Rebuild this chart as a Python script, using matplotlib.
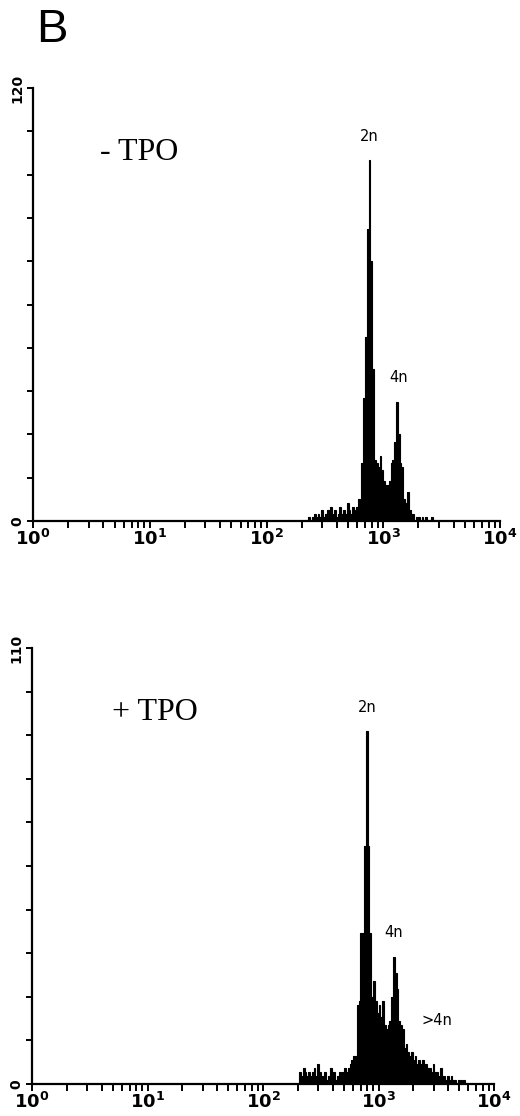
import numpy as np
import matplotlib
matplotlib.use("Agg")
import matplotlib.pyplot as plt
from matplotlib.ticker import FixedLocator, LogLocator, NullFormatter, FixedFormatter

# ---- data: flow-cytometry DNA histograms (256 log channels over 4 decades) ----
n_channels = 256
decades = 4

# -TPO panel: counts starting at channel 150
minus_start = 150
minus_counts = [0, 1, 0, 1, 2, 1, 2, 1, 3, 1,
                2, 3, 2, 4, 2, 3, 1, 2, 4, 2,
                3, 2, 5, 3, 2, 4, 3, 4, 6, 5,
                16, 34, 51, 81, 100, 72, 42, 17, 16, 15,
                18, 14, 11, 10, 10, 11, 16, 17, 22, 33,
                24, 16, 15, 6, 5, 8, 3, 1, 2, 0,
                1, 1, 0, 1, 0, 1, 0, 0, 1, 0]
minus_ymax = 120
# (text, channel, count, vertical offset in points)
minus_labels = [("2n", 184, 100, 12), ("4n", 200, 33, 12)]

# +TPO panel: counts starting at channel 148
plus_start = 148
plus_counts = [3, 2, 4, 3, 2, 3, 2, 3, 4, 2,
               5, 3, 2, 2, 3, 1, 2, 4, 2, 3,
               1, 2, 3, 2, 3, 4, 3, 4, 5, 6,
               7, 7, 20, 21, 38, 38, 60, 89, 60, 38,
               22, 26, 21, 18, 20, 17, 21, 15, 14, 15,
               16, 22, 32, 28, 24, 16, 15, 14, 9, 10,
               8, 7, 8, 6, 7, 5, 6, 5, 6, 4,
               5, 4, 4, 3, 5, 3, 3, 2, 4, 2,
               2, 1, 2, 1, 2, 1, 1, 0, 1, 1,
               0, 1]
plus_ymax = 110
plus_labels = [("2n", 185, 89, 12), ("4n", 200, 32, 12), (">4n", 224, 16, 0)]

xtick_labels = [r"$\mathbf{10^{0}}$", r"$\mathbf{10^{1}}$", r"$\mathbf{10^{2}}$",
                r"$\mathbf{10^{3}}$", r"$\mathbf{10^{4}}$"]

W, H = 520, 1116
fig = plt.figure(figsize=(W / 100, H / 100), dpi=100)
plt.rcParams['mathtext.fontset'] = 'dejavusans'


def chan_to_val(c):
    return 10 ** (np.asarray(c, dtype=float) * decades / n_channels)


def draw_panel(rect, start, counts, ymax, title, title_xy, labels):
    ax = fig.add_axes(rect)
    counts = np.asarray(counts, dtype=float)
    edges = chan_to_val(np.arange(start, start + len(counts) + 1))
    ax.stairs(counts, edges, fill=True, color="black", linewidth=0)
    ax.stairs(counts, edges, fill=False, color="black", linewidth=0.8)
    ax.set_xscale("log")
    ax.set_xlim(1, 10 ** decades)
    ax.set_ylim(0, ymax)
    for s in ("top", "right"):
        ax.spines[s].set_visible(False)
    for s in ("left", "bottom"):
        ax.spines[s].set_linewidth(1.6)
    ax.xaxis.set_major_locator(FixedLocator([1, 10, 100, 1000, 10000]))
    ax.xaxis.set_major_formatter(FixedFormatter(xtick_labels))
    ax.xaxis.set_minor_locator(LogLocator(base=10, subs=np.arange(2, 10), numticks=20))
    ax.xaxis.set_minor_formatter(NullFormatter())
    yt = np.linspace(0, ymax, 11)
    ax.set_yticks(yt)
    ax.set_yticklabels([str(ymax) if v == ymax else ("0" if v == 0 else "") for v in yt],
                       rotation=90, va="center", fontsize=10, fontweight="bold")
    ax.tick_params(axis="x", which="both", direction="out", length=5, width=1.4,
                   labelsize=13, pad=1)
    ax.tick_params(axis="y", which="both", direction="out", length=4, width=1.4, pad=2)
    ax.text(title_xy[0], title_xy[1], title, transform=ax.transAxes,
            fontsize=23, family="Liberation Serif", va="center", ha="left")
    for txt, ch, val, off in labels:
        ax.annotate(txt, (chan_to_val(ch + 0.5), val), xytext=(0, off),
                    textcoords="offset points", ha="center",
                    va="bottom" if off else "center",
                    fontsize=10.5, family="DejaVu Sans")
    return ax


top_rect = [33 / W, 1 - 521 / H, (500 - 33) / W, (521 - 88) / H]
bot_rect = [32 / W, 1 - 1084 / H, (494 - 32) / W, (1084 - 648) / H]

draw_panel(top_rect, minus_start, minus_counts, minus_ymax, "- TPO",
           ((100 - 33) / 467, (521 - 152) / 433), minus_labels)
draw_panel(bot_rect, plus_start, plus_counts, plus_ymax, "+ TPO",
           ((112 - 32) / 462, (1084 - 713) / 436), plus_labels)

fig.text(36 / W, 1 - 42 / H, "B", fontsize=34, family="Liberation Sans",
         ha="left", va="baseline")

fig.savefig("out.png", dpi=100, facecolor="white")
